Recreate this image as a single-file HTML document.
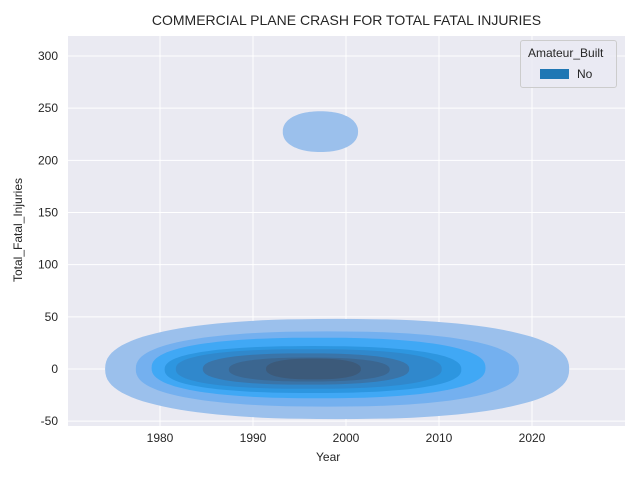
<!DOCTYPE html>
<html><head><meta charset="utf-8"><style>
body{margin:0;background:#fff;font-family:"Liberation Sans","DejaVu Sans",sans-serif}
text{font-family:"Liberation Sans","DejaVu Sans",sans-serif;fill:#262626}
</style></head><body>
<svg id="c" width="640" height="480"></svg>
<script>
const xTicks=[1980,1990,2000,2010,2020];
const yTicks=[-50,0,50,100,150,200,250,300];
const levelX0=[1974.1,1977.4,1979.1,1980.5,1981.7,1984.6,1987.4,1991.4];
const levelX1=[2024.0,2018.6,2015.0,2012.4,2010.3,2006.8,2004.7,2001.6];
const levelY0=[-48,-36,-28,-23,-19,-15,-12,-10];
const levelY1=[48,36,30,22,19,15,11,10];
const levelColors=["#9bc0ec","#74b0ef","#40a8f5","#2d96e0","#3088cc","#3a74a8","#3b6690","#3c5a7a"];
const blobX=[1993.2,2001.3];
const blobY=[208,247];
const L=68,R=625,T=36,B=426;
const X=v=>160+(v-1980)*9.3;
const Y=v=>369-v*1.0433;
const svg=document.getElementById('c');
const NS='http://www.w3.org/2000/svg';
function mk(t,a,p){const e=document.createElementNS(NS,t);for(const k in a)e.setAttribute(k,a[k]);(p||svg).appendChild(e);return e;}
function superEllipse(cx,cy,rx,ry,n){let d='';for(let i=0;i<=120;i++){const t=i/120*2*Math.PI,c=Math.cos(t),s=Math.sin(t);
const x=cx+rx*Math.sign(c)*Math.pow(Math.abs(c),2/n),y=cy+ry*Math.sign(s)*Math.pow(Math.abs(s),2/n);d+=(i?'L':'M')+x.toFixed(1)+','+y.toFixed(1);}return d+'Z';}
let bg=mk('rect',{x:L,y:T,width:R-L,height:B-T,fill:'#eaeaf2'});


xTicks.forEach(t=>{const l=mk('line',{x1:X(t),x2:X(t),y1:T,y2:B,stroke:'#fff','stroke-width':1});


const tx=mk('text',{x:X(t),y:B+16,'text-anchor':'middle','font-size':12});tx.textContent=t;

});
yTicks.forEach(t=>{const l=mk('line',{x1:L,x2:R,y1:Y(t),y2:Y(t),stroke:'#fff','stroke-width':1});


const tx=mk('text',{x:L-10,y:Y(t)+4,'text-anchor':'end','font-size':12});tx.textContent=t;

});
levelX0.forEach((v,i)=>{const cx=(X(v)+X(levelX1[i]))/2,rx=(X(levelX1[i])-X(v))/2;
const cy=(Y(levelY0[i])+Y(levelY1[i]))/2,ry=(Y(levelY0[i])-Y(levelY1[i]))/2;
const e=mk('path',{d:superEllipse(cx,cy,rx,ry,2.4),fill:levelColors[i]});

});
{const cx=(X(blobX[0])+X(blobX[1]))/2,rx=(X(blobX[1])-X(blobX[0]))/2,cy=(Y(blobY[0])+Y(blobY[1]))/2,ry=(Y(blobY[0])-Y(blobY[1]))/2;
const e=mk('path',{d:superEllipse(cx,cy,rx,ry,2.2),fill:levelColors[0]});

}
</script>
<div style="position:absolute;left:0;top:12px;width:693px;text-align:center;font-size:14px;color:#262626">COMMERCIAL PLANE CRASH FOR TOTAL FATAL INJURIES</div>
<div style="position:absolute;left:316px;top:450px;font-size:12px;color:#262626">Year</div>
<div style="position:absolute;left:-37px;top:223px;width:110px;text-align:center;transform:rotate(-90deg);font-size:12px;color:#262626">Total_Fatal_Injuries</div>
<div style="position:absolute;left:520px;top:40px;width:95px;height:46px;border:1px solid #ccc;border-radius:3px;background:rgba(234,234,242,0.8);font-size:12px;color:#262626">
<div style="position:absolute;left:7px;top:5px">Amateur_Built</div>
<div style="position:absolute;left:19px;top:26px"><span style="display:inline-block;width:29px;height:10px;background:#1f77b4;vertical-align:-1px"></span><span style="margin-left:8px">No</span></div>
</div>
</body></html>
